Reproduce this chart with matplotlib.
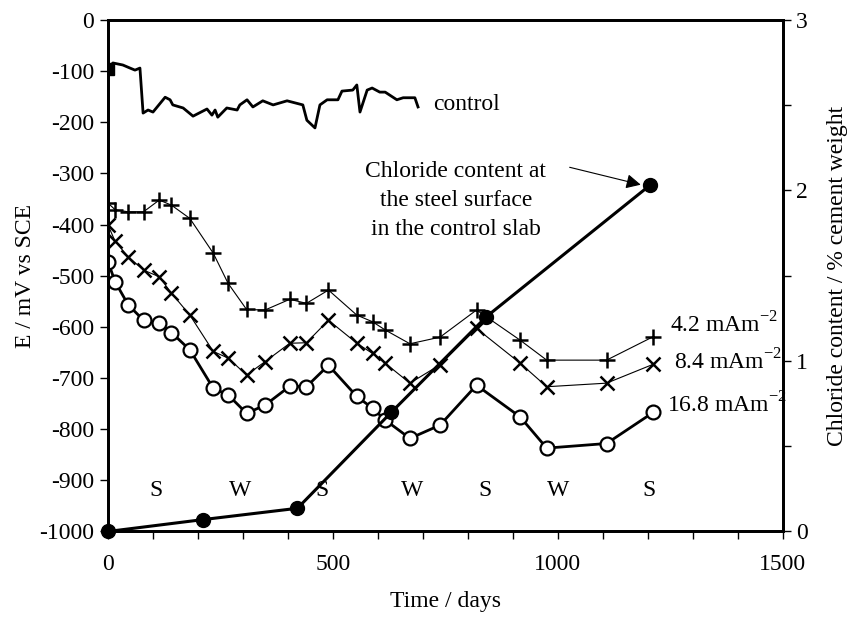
import matplotlib.pyplot as plt
from matplotlib.ticker import MultipleLocator

plt.rcParams['font.family'] = ['Liberation Serif', 'DejaVu Serif']
plt.rcParams['mathtext.fontset'] = 'custom'
plt.rcParams['mathtext.rm'] = 'Liberation Serif'
plt.rcParams['axes.unicode_minus'] = False

# control slab potential (mV vs SCE)
control_days = [0, 11, 33, 49, 60, 71, 78, 89, 100, 127, 138, 144, 167, 189, 220, 231,
                238, 244, 264, 287, 293, 309, 322, 344, 367, 398, 433, 442, 460, 471,
                487, 511, 520, 544, 553, 560, 576, 587, 604, 616, 642, 656, 682, 689]
control_mv = [-95, -84, -88, -94, -98, -94, -182, -176, -180, -151, -156, -166, -172, -188,
              -174, -186, -176, -190, -172, -176, -166, -156, -170, -158, -166, -158, -166,
              -196, -211, -166, -156, -156, -139, -137, -127, -180, -137, -133, -141, -141,
              -156, -152, -152, -170]

# cathodically protected slabs
cp_days = [0, 16, 45, 79, 114, 141, 182, 234, 267, 308, 349, 404, 441, 490, 553, 588,
           616, 671, 738, 819, 916, 975, 1108, 1212]
mv_42 = [-358, -371, -375, -375, -352, -362, -388, -456, -515, -566, -567, -546, -554,
         -528, -577, -590, -606, -633, -620, -567, -626, -665, -665, -619]
mv_84 = [-401, -433, -463, -489, -502, -534, -577, -648, -661, -694, -668, -632, -631,
         -587, -632, -652, -671, -710, -674, -603, -671, -717, -710, -673]
mv_168 = [-473, -512, -557, -587, -593, -611, -645, -720, -733, -769, -753, -716, -717,
          -675, -736, -759, -782, -818, -792, -714, -776, -837, -828, -767]

# chloride content at the steel surface (control slab)
cl_days = [0, 212, 421, 630, 841, 1204]
cl_content = [0, 0.07, 0.136, 0.70, 1.26, 2.03]

# season labels
season_days = [107, 293, 476, 675, 837, 1000, 1202]
season_text = ['S', 'W', 'S', 'W', 'S', 'W', 'S']

fs = 17

fig = plt.figure(figsize=(8.66, 6.23), dpi=100)
ax = fig.add_axes([0.1247, 0.1469, 0.7794, 0.8210])

ax.plot(control_days, control_mv, color='black', lw=2)
ax.plot(control_days[0], control_mv[0], marker='s', color='black', ms=8)
ax.plot(cp_days, mv_42, color='black', lw=0.8, marker='+', ms=12, mew=1.8)
ax.plot(cp_days, mv_84, color='black', lw=0.8, marker='x', ms=10, mew=1.8)
ax.plot(cp_days, mv_168, color='black', lw=2, marker='o', ms=10, mfc='white', mew=1.6)

ax.set_xlim(0, 1500)
ax.set_ylim(-1000, 0)
ax.set_yticks(range(-1000, 1, 100))
ax.xaxis.set_major_locator(MultipleLocator(500))
ax.xaxis.set_minor_locator(MultipleLocator(100))
ax.tick_params(axis='both', which='both', direction='out', length=6, width=1,
               labelsize=fs, top=False)
ax.tick_params(axis='y', pad=4)
ax.tick_params(axis='x', pad=10)
ax.set_xlabel('Time / days', fontsize=fs, labelpad=12)
ax.set_ylabel('E / mV vs SCE', fontsize=fs, labelpad=2)

for d, t in zip(season_days, season_text):
    ax.text(d, -919, t, fontsize=fs, ha='center', va='center')

ax.text(722, -166, 'control', fontsize=fs, ha='left', va='center')
ax.text(1249, -596, '4.2 mAm$^{-2}$', fontsize=fs, ha='left', va='center')
ax.text(1258, -669, '8.4 mAm$^{-2}$', fontsize=fs, ha='left', va='center')
ax.text(1242, -753, '16.8 mAm$^{-2}$', fontsize=fs, ha='left', va='center')
ax.text(773, -352, 'Chloride content at\nthe steel surface\nin the control slab',
        fontsize=fs, ha='center', va='center', multialignment='center', linespacing=1.5)

ax2 = ax.twinx()
ax2.plot(cl_days, cl_content, color='black', lw=2.2, marker='o', ms=10, clip_on=False)
ax2.set_ylim(0, 3)
ax2.yaxis.set_major_locator(MultipleLocator(1))
ax2.yaxis.set_minor_locator(MultipleLocator(0.5))
ax2.tick_params(axis='y', which='both', direction='out', length=6, width=1, labelsize=fs)
ax2.set_ylabel('Chloride content / % cement weight', fontsize=fs, labelpad=14)
ax2.annotate('', xy=(1190, 2.03), xytext=(1020, 2.14),
             arrowprops=dict(arrowstyle='-|>', color='black', lw=0.8, mutation_scale=22))

for a in (ax, ax2):
    for s in a.spines.values():
        s.set_linewidth(2)

fig.savefig('out.png', dpi=100)
